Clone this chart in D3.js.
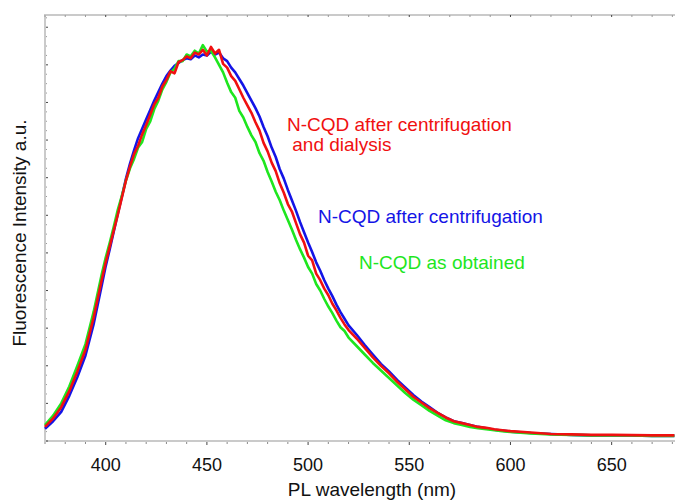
<!DOCTYPE html>
<html>
<head>
<meta charset="utf-8">
<script src="https://cdn.jsdelivr.net/npm/d3@7"></script>
<style>
  body { margin: 0; background: #fff; }
</style>
</head>
<body>
<div class="chart"></div>
<script>
// PL spectra of N-CQD, wavelength in nm, intensity in arbitrary units
const wavelength = [
  370, 374, 378, 382, 386, 390, 394, 398,
  400, 402, 404, 406, 408, 410, 412, 414, 416, 418, 420, 422, 424, 426, 428, 430,
  432, 434, 436, 438, 440, 442, 444, 446, 448, 450, 452, 454, 456, 458, 460, 462,
  464, 466, 468, 470, 472, 474, 476, 478, 480, 482, 484, 486, 488, 490, 492, 494,
  496, 498, 500, 502, 504, 506, 508, 510, 512, 514, 516, 518, 520,
  524, 528, 532, 536, 540, 544, 548, 552, 556, 560, 564, 568, 572, 576, 580, 584,
  588, 592, 596, 600,
  610, 620, 630, 640, 650, 660, 670, 681
];

const asObtained = [
  17, 27, 40, 58, 80, 103, 137, 177,
  195, 211, 228, 246, 261, 277, 290, 300, 312, 318, 332, 340, 353, 362, 374, 382,
  392, 396, 404, 404, 411, 409, 415, 412, 421, 414, 415, 408, 400, 392, 381, 371,
  365, 351, 344, 334, 325, 318, 306, 298, 286, 276, 265, 256, 245, 235, 225, 214,
  204, 195, 185, 178, 167, 160, 151, 143, 136, 128, 121, 117, 110,
  101, 92, 83, 75, 67, 59, 51, 44, 38, 32, 27, 22, 19, 17, 15, 13.5,
  12.5, 11.5, 10.5, 9.5,
  8, 7, 6.5, 6, 6, 5.8, 5.5, 5.5
];

const afterCentrifugation = [
  13, 21, 31, 48, 68, 91, 124, 165,
  186, 204, 223, 242, 260, 279, 295, 309, 322, 332, 342, 352, 362, 371, 380, 388,
  394, 399, 402, 405, 407, 406, 410, 408, 411, 410, 414, 411, 413, 407, 404, 397,
  392, 385, 378, 370, 362, 354, 345, 334, 324, 312, 302, 289, 279, 267, 256, 245,
  233, 222, 211, 201, 190, 181, 171, 162, 154, 145, 137, 130, 123,
  113, 102, 92, 82, 74, 65, 57, 49, 42, 36, 30, 25, 21, 19, 17, 15,
  13.5, 12, 11, 10,
  8.5, 7.5, 6.5, 6, 6, 5.8, 5.5, 5.5
];

const afterDialysis = [
  15, 24, 36, 53, 74, 97, 131, 171,
  190, 207, 224, 241, 259, 277, 292, 305, 314, 326, 336, 347, 358, 365, 377, 384,
  393, 391, 403, 405, 409, 407, 413, 411, 416, 410, 419, 412, 416, 401, 397, 388,
  383, 374, 365, 357, 349, 339, 330, 317, 308, 296, 287, 274, 264, 252, 244, 232,
  220, 211, 197, 192, 178, 171, 162, 155, 146, 139, 131, 124, 118,
  109, 99, 89, 80, 72, 63, 55, 47, 41, 35, 30, 25, 21, 19, 17, 15,
  14, 12.5, 11.5, 10.5,
  9, 7.5, 7, 6.5, 6.5, 6.2, 6, 6
];

const xTickLabels = [400, 450, 500, 550, 600, 650];

const series = [
  { name: 'N-CQD after centrifugation', values: afterCentrifugation, color: '#1414e6' },
  { name: 'N-CQD as obtained', values: asObtained, color: '#1ee61e' },
  { name: 'N-CQD after centrifugation and dialysis', values: afterDialysis, color: '#f01010' }
];

const width = 675, height = 502;
const margin = { top: 15, right: 0, bottom: 61, left: 45 };
const fontFamily = '"Liberation Sans", Arial, sans-serif';

const svg = d3.select('div.chart').append('svg')
  .attr('width', width)
  .attr('height', height)
  .style('display', 'block');

const x = d3.scaleLinear()
  .domain([370, 681.3])
  .range([margin.left, width - margin.right]);

const y = d3.scaleLinear()
  .domain([0, 453])
  .range([height - margin.bottom, margin.top]);

// frame (top, left, bottom)
const frameColor = '#cacaca';
svg.append('path')
  .attr('d', 'M' + width + ',' + y.range()[1] + 'H' + x.range()[0] + 'V' + y.range()[0] + 'H' + width)
  .attr('fill', 'none')
  .attr('stroke', frameColor)
  .attr('stroke-width', 2);

// x ticks, every 10 nm, major every 50
const xTicks = d3.range(370, 681, 10);
svg.selectAll('.xtick')
  .data(xTicks)
  .enter().append('line')
  .attr('x1', d => x(d)).attr('x2', d => x(d))
  .attr('y1', y(0) + 1).attr('y2', d => y(0) + (d % 50 === 0 ? 4 : 3))
  .attr('stroke', d => d % 50 === 0 ? '#444' : '#888')
  .attr('stroke-width', 1);

svg.selectAll('.xtick-top')
  .data(xTicks)
  .enter().append('line')
  .attr('x1', d => x(d)).attr('x2', d => x(d))
  .attr('y1', margin.top).attr('y2', margin.top + 2)
  .attr('stroke', d => d % 50 === 0 ? '#444' : '#999')
  .attr('stroke-width', 1);

svg.selectAll('.xlabel')
  .data(xTickLabels)
  .enter().append('text')
  .attr('x', d => x(d))
  .attr('y', 471)
  .attr('text-anchor', 'middle')
  .attr('font-family', fontFamily)
  .attr('font-size', '18px')
  .attr('fill', '#111')
  .text(d => d);

// y ticks (no labels)
const yTicks = d3.range(0, 453, 10);
svg.selectAll('.ytick')
  .data(yTicks)
  .enter().append('line')
  .attr('x1', margin.left + 1).attr('x2', d => margin.left + (d % 40 === 0 ? 3 : 2))
  .attr('y1', d => y(d)).attr('y2', d => y(d))
  .attr('stroke', d => d % 40 === 0 ? '#444' : '#999')
  .attr('stroke-width', 1);

// axis titles
svg.append('text')
  .attr('x', 372)
  .attr('y', 496)
  .attr('text-anchor', 'middle')
  .attr('font-family', fontFamily)
  .attr('font-size', '19px')
  .attr('fill', '#111')
  .text('PL wavelength (nm)');

svg.append('text')
  .attr('transform', 'translate(26,233) rotate(-90)')
  .attr('text-anchor', 'middle')
  .attr('font-family', fontFamily)
  .attr('font-size', '19px')
  .attr('fill', '#111')
  .text('Fluorescence Intensity a.u.');

// spectra
const line = d3.line()
  .x((d, i) => x(wavelength[i]))
  .y(d => y(d))
  .curve(d3.curveLinear);

svg.append('g')
  .selectAll('path')
  .data(series)
  .enter().append('path')
  .attr('d', d => line(d.values))
  .attr('fill', 'none')
  .attr('stroke', d => d.color)
  .attr('stroke-width', 2.6)
  .attr('stroke-linejoin', 'round');

// labels
const labels = [
  { lines: ['N-CQD after centrifugation', ' and dialysis'], x: 287, y: 131, color: '#f01010' },
  { lines: ['N-CQD after centrifugation'], x: 318, y: 223, color: '#1414e6' },
  { lines: ['N-CQD as obtained'], x: 359, y: 269, color: '#1ee61e' }
];

labels.forEach(l => {
  const t = svg.append('text')
    .attr('font-family', fontFamily)
    .attr('font-size', '19px')
    .attr('fill', l.color)
    .attr('xml:space', 'preserve')
    .style('white-space', 'pre');
  l.lines.forEach((s, i) => {
    t.append('tspan')
      .attr('x', l.x)
      .attr('y', l.y + i * 20)
      .text(s);
  });
});
</script>
</body>
</html>
